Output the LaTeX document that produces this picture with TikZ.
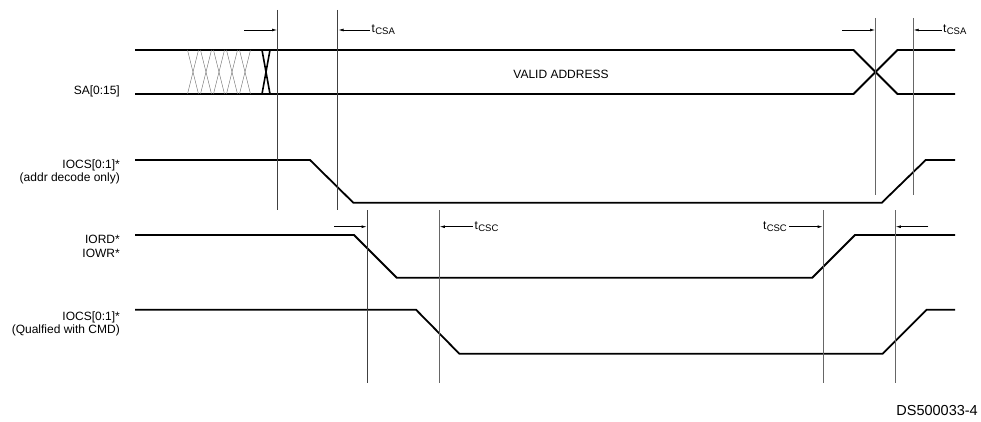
\documentclass[tikz,border=0pt]{standalone}
\usepackage{fontspec}
\setmainfont{Liberation Sans}
\usetikzlibrary{arrows.meta}
\newcommand\tsub[1]{t\kern0.3pt\raisebox{-0.35ex}{\fontsize{9.5}{9.5}\selectfont #1}}
\begin{document}
\begin{tikzpicture}[x=1pt,y=-1pt,
  sig/.style={line width=1.8pt, line join=miter},
  guide/.style={line width=0.6pt, draw=black!60},
  dim/.style={line width=0.6pt, -{Latex[length=5pt,width=2.8pt]}},
  lbl/.style={font=\fontsize{12}{13.5}\selectfont, inner sep=0pt},
  hatch/.style={line width=0.45pt, draw=black!55},
  boldx/.style={line width=1.6pt}]
\useasboundingbox (0,0) rectangle (981,422);

% signal labels
\node[lbl, anchor=east] (lsa) at (120,91) {SA[0:15]};
\node[lbl, anchor=east, align=right] (liocs) at (120,172) {IOCS[0:1]*\\(addr decode only)};
\node[lbl, anchor=east, align=right] (liord) at (120,246.5) {IORD*\\IOWR*};
\node[lbl, anchor=east, align=right] (lqual) at (120,324) {IOCS[0:1]*\\(Qualfied with CMD)};

% SA bus
\draw[sig] (135,50) -- (853.5,50) -- (897.5,94) -- (955,94);
\draw[sig] (135,94) -- (853.5,94) -- (897.5,50) -- (955,50);
\node[lbl] (valid) at (561,74) {VALID ADDRESS};
% hatched (changing) region
\foreach \c in {193,206,219,232,245} {
  \draw[hatch] (\c-5.5,50) -- (\c+5.5,94);
  \draw[hatch] (\c+5.5,50) -- (\c-5.5,94);
}
\draw[boldx] (262,50) -- (270,94);
\draw[boldx] (270,50) -- (262,94);

% IOCS addr decode
\draw[sig] (135,160) -- (310,160) -- (353.3,202.7) -- (881.8,202.7) -- (925.7,160) -- (955,160);
% IORD / IOWR
\draw[sig] (135,235) -- (354,235) -- (396.7,277.7) -- (812.3,277.7) -- (855,235) -- (955,235);
% IOCS qualified
\draw[sig] (135,309.7) -- (416,309.7) -- (459.3,353.7) -- (882.7,353.7) -- (926.7,309.7) -- (955,309.7);

% guide lines
\coordinate (g1t) at (277.7,10);  \coordinate (g1b) at (277.7,210);
\coordinate (g2t) at (337.7,10);  \coordinate (g2b) at (337.7,210);
\coordinate (g3t) at (875.7,18);  \coordinate (g3b) at (875.7,195);
\coordinate (g4t) at (912.8,18);  \coordinate (g4b) at (912.8,195);
\coordinate (g5t) at (367.3,210); \coordinate (g5b) at (367.3,382.7);
\coordinate (g6t) at (439,210);   \coordinate (g6b) at (439,382.7);
\coordinate (g7t) at (823.3,210); \coordinate (g7b) at (823.3,382.7);
\coordinate (g8t) at (895,210);   \coordinate (g8b) at (895,382.7);
\draw[guide, draw=black!75] (g1t) -- (g1b);
\draw[guide, draw=black!75] (g2t) -- (g2b);
\draw[guide] (g3t) -- (g3b);
\draw[guide] (g4t) -- (g4b);
\draw[guide, draw=black!75] (g5t) -- (g5b);
\draw[guide] (g6t) -- (g6b);
\draw[guide] (g7t) -- (g7b);
\draw[guide] (g8t) -- (g8b);

% dimension arrows
\coordinate (a1s) at (244,30);  \coordinate (a1e) at (277,30);
\coordinate (a2s) at (370,30);  \coordinate (a2e) at (338.5,30);
\coordinate (a3s) at (842,30);  \coordinate (a3e) at (875,30);
\coordinate (a4s) at (941.6,30); \coordinate (a4e) at (913.6,30);
\coordinate (a5s) at (334,226.7); \coordinate (a5e) at (366.6,226.7);
\coordinate (a6s) at (472.7,226.7); \coordinate (a6e) at (439.8,226.7);
\coordinate (a7s) at (789,226.7); \coordinate (a7e) at (822.6,226.7);
\coordinate (a8s) at (928.3,226.7); \coordinate (a8e) at (895.8,226.7);
\draw[dim] (a1s) -- (a1e);
\draw[dim] (a2s) -- (a2e);
\draw[dim] (a3s) -- (a3e);
\draw[dim] (a4s) -- (a4e);
\draw[dim] (a5s) -- (a5e);
\draw[dim] (a6s) -- (a6e);
\draw[dim] (a7s) -- (a7e);
\draw[dim] (a8s) -- (a8e);

\node[lbl, anchor=west] (tcsa1) at (371.5,30) {\tsub{CSA}};
\node[lbl, anchor=west] (tcsa2) at (943,30) {\tsub{CSA}};
\node[lbl, anchor=west] (tcsc1) at (474.5,227) {\tsub{CSC}};
\node[lbl, anchor=east] (tcsc2) at (787,227) {\tsub{CSC}};

\node[lbl, anchor=east, font=\fontsize{14.5}{16}\selectfont] (fig) at (978,411) {DS500033-4};
\end{tikzpicture}
\end{document}
